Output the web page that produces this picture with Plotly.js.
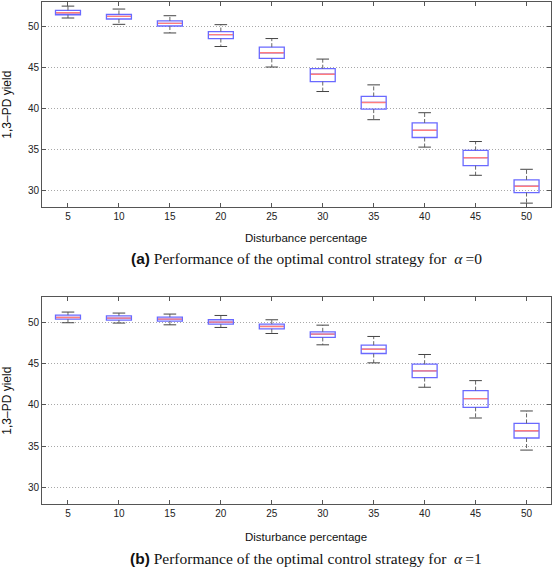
<!DOCTYPE html>
<html>
<head>
<meta charset="utf-8">
<script src="https://cdn.plot.ly/plotly-3.0.1.min.js"></script>
<style>html,body{margin:0;padding:0;background:#fff;}#chart{width:553px;height:568px;}</style>
</head>
<body>
<div id="chart"></div>
<script>
// Disturbance percentage categories
const cats = [5, 10, 15, 20, 25, 30, 35, 40, 45, 50];

// (a) alpha = 0
const upperA = [52.50, 52.14, 51.33, 50.24, 48.55, 46.05, 42.91, 39.52, 36.01, 32.63];
const q3A    = [51.98, 51.49, 50.69, 49.40, 47.50, 44.88, 41.50, 38.27, 34.93, 31.34];
const medA   = [51.69, 51.25, 50.40, 49.03, 46.82, 44.20, 40.77, 37.38, 34.04, 30.57];
const q1A    = [51.45, 50.93, 50.08, 48.55, 46.13, 43.31, 39.96, 36.50, 33.07, 29.80];
const lowerA = [51.05, 50.28, 49.23, 47.58, 45.08, 42.10, 38.67, 35.33, 31.90, 28.51];

// (b) alpha = 1
const upperB = [51.21, 51.09, 50.97, 50.80, 50.28, 49.63, 48.26, 46.08, 42.92, 39.25];
const q3B    = [50.84, 50.76, 50.60, 50.28, 49.75, 48.82, 47.21, 44.91, 41.71, 37.75];
const medB   = [50.56, 50.48, 50.36, 50.00, 49.47, 48.54, 46.72, 44.10, 40.74, 36.86];
const q1B    = [50.36, 50.24, 50.12, 49.75, 49.19, 48.14, 46.20, 43.29, 39.69, 35.98];
const lowerB = [49.92, 49.88, 49.67, 49.35, 48.62, 47.25, 45.07, 42.12, 38.40, 34.52];

const yTicks = [30, 35, 40, 45, 50];
const xTitle = 'Disturbance percentage';
const yTitle = '1,3\u2013PD yield';
const captionA = '<span style="font-family:Liberation Sans;font-weight:bold">(a)</span> Performance of the optimal control strategy for  <i>\u03b1</i>\u2009=0';
const captionB = '<span style="font-family:Liberation Sans;font-weight:bold">(b)</span> Performance of the optimal control strategy for  <i>\u03b1</i>\u2009=1';

const boxColor = 'rgb(105,105,255)';
const medColor = 'rgb(255,125,125)';
const whiskColor = '#666';

function makeTraces(lo, q1, med, q3, up, xa, ya) {
  const wx = [], wy = [];
  for (let i = 0; i < cats.length; i++) {
    wx.push(cats[i], cats[i], null, cats[i], cats[i], null);
    wy.push(q3[i], up[i], null, q1[i], lo[i], null);
  }
  return [
    {type: 'box', x: cats, q1: q1, median: med, q3: q3, lowerfence: q1, upperfence: q3,
     width: 2.45, whiskerwidth: 0, boxpoints: false, fillcolor: 'rgba(0,0,0,0)',
     line: {color: boxColor, width: 1.3}, xaxis: xa, yaxis: ya, hoverinfo: 'skip', showlegend: false},
    {type: 'scatter', mode: 'lines', x: wx, y: wy, line: {color: whiskColor, width: 1, dash: '4px,2px'},
     xaxis: xa, yaxis: ya, hoverinfo: 'skip', showlegend: false},
    {type: 'scatter', mode: 'markers', x: cats.concat(cats), y: up.concat(lo),
     marker: {symbol: 'line-ew', size: 9, line: {color: '#444', width: 1}},
     xaxis: xa, yaxis: ya, hoverinfo: 'skip', showlegend: false},
    {type: 'scatter', mode: 'markers', x: cats, y: med,
     marker: {symbol: 'line-ew', size: 17, line: {color: medColor, width: 1.4}},
     xaxis: xa, yaxis: ya, hoverinfo: 'skip', showlegend: false}
  ];
}

const data = makeTraces(lowerA, q1A, medA, q3A, upperA, 'x', 'y')
  .concat(makeTraces(lowerB, q1B, medB, q3B, upperB, 'x2', 'y2'));

const tickFont = {family: 'Liberation Sans, Arial, sans-serif', size: 10, color: '#222'};
function xAxis(anchor) {
  return {anchor: anchor, range: [2.45, 52.4], tickvals: cats, ticktext: cats.map(String),
    ticks: 'inside', ticklen: 4, tickcolor: '#555', showline: true, mirror: 'ticks',
    linecolor: '#555', linewidth: 1, showgrid: false, zeroline: false, tickfont: tickFont};
}
function yAxis(anchor, domain) {
  return {anchor: anchor, domain: domain, range: [28, 53], tickvals: yTicks,
    ticks: 'inside', ticklen: 4, tickcolor: '#555', showline: true, mirror: 'ticks',
    linecolor: '#555', linewidth: 1, showgrid: true, gridcolor: '#a8a8a8', griddash: '1px,2px',
    gridwidth: 1, zeroline: false, tickfont: tickFont,
    title: {text: yTitle, font: {family: 'Liberation Sans, Arial, sans-serif', size: 12, color: '#111'}}};
}

const titleFont = {family: 'Liberation Sans, Arial, sans-serif', size: 11.5, color: '#111'};
const capFont = {family: 'Liberation Serif, Times New Roman, serif', size: 15.5, color: '#111'};

const layout = {
  width: 553, height: 568,
  margin: {l: 42, r: 2, t: 2, b: 64},
  paper_bgcolor: '#fff', plot_bgcolor: '#fff',
  showlegend: false,
  xaxis: xAxis('y'),
  yaxis: yAxis('x', [0.591, 1]),
  xaxis2: xAxis('y2'),
  yaxis2: yAxis('x2', [0, 0.4118]),
  annotations: [
    {text: xTitle, xref: 'paper', yref: 'paper', x: 0.5187, y: 0.5293, xanchor: 'center', yanchor: 'middle', showarrow: false, font: titleFont},
    {text: captionA, xref: 'paper', yref: 'paper', x: 0.5187, y: 0.489, xanchor: 'center', yanchor: 'middle', showarrow: false, font: capFont},
    {text: xTitle, xref: 'paper', yref: 'paper', x: 0.5187, y: -0.0663, xanchor: 'center', yanchor: 'middle', showarrow: false, font: titleFont},
    {text: captionB, xref: 'paper', yref: 'paper', x: 0.5187, y: -0.1076, xanchor: 'center', yanchor: 'middle', showarrow: false, font: capFont}
  ]
};

Plotly.newPlot('chart', data, layout, {staticPlot: true, displayModeBar: false});
</script>
</body>
</html>
